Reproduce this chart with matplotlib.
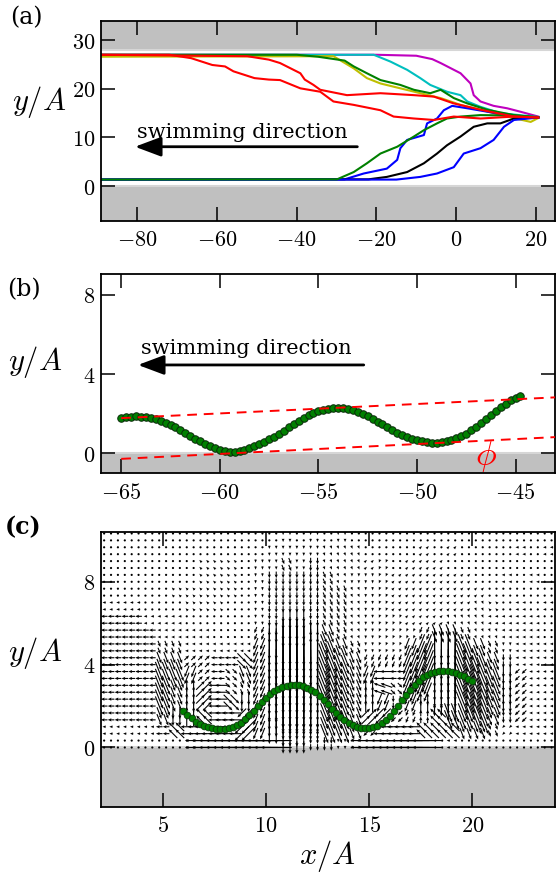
import numpy as np
import matplotlib.pyplot as plt
from matplotlib.ticker import FuncFormatter

plt.rcParams['mathtext.fontset'] = 'cm'
plt.rcParams['font.family'] = 'DejaVu Serif'

W, H = 556, 875
WALL = '#c0c0c0'
EDGE = '#d6d6d6'
TICK_FS = 16
LABEL_FS = 22

# ---- (a) tracer trajectories, x and y in units of A ----
red_1_x = [-90, -72, -66.5, -61.2, -58.0, -55.9, -50.6, -47.0, -44.2, -39.1, -34.1, -30.8, -25.7, -19.0, -15.7, -10.6, -5.6, -0.6, 6.1, 14.5, 20.6]
red_1_y = [27.0, 27.0, 26.3, 24.9, 24.6, 23.6, 22.2, 21.9, 21.8, 20.1, 19.4, 17.4, 16.7, 15.6, 14.3, 13.9, 13.6, 14.3, 13.9, 14.3, 14.1]
red_2_x = [-90, -52.4, -47.0, -44.2, -39.1, -38.0, -35.8, -34.1, -27.4, -19.0, -10.6, -5.6, -0.6, 6.1, 14.5, 20.6]
red_2_y = [27.0, 26.7, 26.0, 25.3, 23.2, 21.9, 20.8, 19.8, 18.7, 19.1, 18.7, 18.4, 17.0, 15.7, 14.3, 14.1]
magenta_x = [-90, -20, -10, -6.0, -3.9, 1.1, 3.6, 4.4, 6.1, 9.4, 12.8, 16.1, 20.6]
magenta_y = [27.0, 27.0, 26.8, 26.1, 25.3, 23.2, 21.1, 18.7, 17.4, 16.5, 16.0, 15.3, 14.3]
cyan_x = [-90, -20.7, -16.5, -12.3, -9.0, -6.5, -2.3, 1.1, 2.8, 6.1, 11.1, 20.6]
cyan_y = [27.0, 27.0, 25.6, 23.9, 22.2, 20.8, 19.4, 18.7, 17.4, 16.3, 15.0, 14.2]
yellow_x = [-90, -30.8, -25.7, -22.4, -19.0, -14.0, -9.0, -3.9, 1.1, 6.1, 12.8, 18.7, 20.6]
yellow_y = [26.6, 26.7, 24.2, 22.2, 21.1, 20.1, 19.1, 18.1, 16.7, 15.7, 14.3, 13.2, 14.0]
green_1_x = [-90, -40, -34.7, -28.0, -25.7, -22.4, -19.0, -14.0, -10.6, -6.5, -3.9, -0.6, 2.8, 7.8, 14.5, 20.6]
green_1_y = [27.0, 27.0, 26.6, 25.8, 24.6, 23.2, 21.8, 20.8, 19.8, 19.1, 19.8, 18.1, 17.0, 15.7, 14.6, 14.1]
green_2_x = [-90, -29.9, -25.7, -22.4, -19.0, -14.8, -10.6, -8.1, -4.8, -2.3, 1.1, 6.1, 14.5, 20.6]
green_2_y = [1.35, 1.4, 2.9, 4.7, 6.7, 8.1, 10.2, 11.5, 12.9, 13.9, 14.3, 14.6, 14.5, 14.2]
blue_1_x = [-90, -28.0, -23.2, -17.4, -14.8, -14.0, -12.3, -8.1, -7.3, -4.8, -3.1, -1.0, 2.8, 7.8, 14.5, 20.6]
blue_1_y = [1.35, 1.4, 2.6, 3.6, 5.4, 7.8, 9.5, 10.5, 12.9, 13.9, 15.6, 16.5, 16.0, 15.3, 14.3, 14.1]
blue_2_x = [-90, -15.0, -9.0, -4.8, -0.6, 1.9, 6.1, 9.4, 12.0, 14.5, 20.6]
blue_2_y = [1.35, 1.35, 1.9, 2.6, 3.9, 6.7, 7.8, 9.5, 12.2, 13.6, 14.1]
black_x = [-90, -22.0, -17.4, -12.3, -8.1, -4.8, -2.3, 1.1, 4.4, 7.8, 11.1, 14.5, 20.6]
black_y = [1.35, 1.4, 1.9, 2.9, 4.7, 6.7, 8.4, 10.2, 12.2, 12.9, 12.9, 13.9, 14.1]

trajectories = [
    (magenta_x, magenta_y, 'm'), (cyan_x, cyan_y, 'c'), (yellow_x, yellow_y, 'y'),
    (green_1_x, green_1_y, 'g'), (blue_1_x, blue_1_y, 'b'), (black_x, black_y, 'k'),
    (blue_2_x, blue_2_y, 'b'), (green_2_x, green_2_y, 'g'),
    (red_1_x, red_1_y, 'r'), (red_2_x, red_2_y, 'r'),
]

# ---- (b) swimmer snapshot near the wall ----
body_b_x = [-65.00, -64.75, -64.50, -64.25, -64.00, -63.75, -63.50, -63.25, -63.00, -62.75,
            -62.50, -62.25, -62.00, -61.75, -61.50, -61.25, -61.00, -60.75, -60.50, -60.25,
            -60.00, -59.75, -59.50, -59.25, -59.00, -58.75, -58.50, -58.25, -58.00, -57.75,
            -57.50, -57.25, -57.00, -56.75, -56.50, -56.25, -56.00, -55.75, -55.50, -55.25,
            -55.00, -54.75, -54.50, -54.25, -54.00, -53.75, -53.50, -53.25, -53.00, -52.75,
            -52.50, -52.25, -52.00, -51.75, -51.50, -51.25, -51.00, -50.75, -50.50, -50.25,
            -50.00, -49.75, -49.50, -49.25, -49.00, -48.75, -48.50, -48.25, -48.00, -47.75,
            -47.50, -47.25, -47.00, -46.75, -46.50, -46.25, -46.00, -45.75, -45.50, -45.25,
            -45.00, -44.75]
body_b_y = [1.77, 1.82, 1.85, 1.86, 1.85, 1.82, 1.77, 1.71, 1.64, 1.54,
            1.43, 1.31, 1.18, 1.03, 0.88, 0.73, 0.59, 0.46, 0.34, 0.25,
            0.17, 0.11, 0.08, 0.08, 0.11, 0.17, 0.24, 0.34, 0.45, 0.57,
            0.70, 0.84, 0.98, 1.13, 1.30, 1.47, 1.64, 1.79, 1.93, 2.04,
            2.13, 2.20, 2.25, 2.28, 2.29, 2.27, 2.24, 2.18, 2.10, 2.00,
            1.87, 1.73, 1.59, 1.45, 1.30, 1.17, 1.04, 0.93, 0.82, 0.73,
            0.65, 0.59, 0.55, 0.53, 0.53, 0.55, 0.59, 0.66, 0.75, 0.85,
            0.99, 1.15, 1.34, 1.54, 1.74, 1.95, 2.14, 2.33, 2.51, 2.68,
            2.81, 2.90]
upper_tangent = ([-65.0, -43.0], [1.77, 2.82])
lower_tangent = ([-65.0, -43.0], [-0.29, 0.81])

# ---- (c) swimmer and flow field ----
body_c_x = [6.0, 6.2, 6.4, 6.6, 6.8, 7.0, 7.2, 7.4, 7.6, 7.8, 8.0, 8.2, 8.4, 8.6, 8.8,
            9.0, 9.2, 9.4, 9.6, 9.8, 10.0, 10.2, 10.4, 10.6, 10.8, 11.0, 11.2, 11.4, 11.6, 11.8,
            12.0, 12.2, 12.4, 12.6, 12.8, 13.0, 13.2, 13.4, 13.6, 13.8, 14.0, 14.2, 14.4, 14.6, 14.8,
            15.0, 15.2, 15.4, 15.6, 15.8, 16.0, 16.2, 16.4, 16.6, 16.8, 17.0, 17.2, 17.4, 17.6, 17.8,
            18.0, 18.2, 18.4, 18.6, 18.8, 19.0, 19.2, 19.4, 19.6, 19.8, 20.0]
body_c_y = [1.77, 1.58, 1.40, 1.25, 1.13, 1.04, 0.97, 0.92, 0.90, 0.89, 0.90, 0.92, 0.98, 1.07, 1.18,
            1.36, 1.56, 1.77, 1.98, 2.20, 2.39, 2.56, 2.71, 2.83, 2.93, 2.98, 3.01, 3.02, 3.00, 2.95,
            2.88, 2.78, 2.66, 2.49, 2.29, 2.08, 1.86, 1.65, 1.47, 1.31, 1.19, 1.09, 1.01, 0.95, 0.92,
            0.92, 0.97, 1.06, 1.18, 1.34, 1.53, 1.76, 2.02, 2.28, 2.54, 2.78, 3.01, 3.22, 3.39, 3.51,
            3.60, 3.66, 3.70, 3.71, 3.70, 3.66, 3.60, 3.52, 3.43, 3.33, 3.23]

# velocity map on 2/3 A cells, top row first; spaces only separate column groups.
# direction: numpad layout (8 up, 2 down, 4 left, 6 right, 7/9/1/3 diagonals),
# l / r steep down-left / down-right, u / v shallow left-down / left-up
flow_dir = [
    "4444 44 44444 2 2222 222 999 999999 4 4444",
    "4444 44 44444 2 2222 rrr 999 999999 4 4444",
    "4444 44 47774 2 2r22 rrr 9l9 999999 4 4444",
    "4444 44 47774 2 2222 rr2 2l9 999999 4 4444",
    "4444 47 77774 2 2222 rrr 2l9 999999 7 4444",
    "4444 44 77744 2 2222 rrr 2l9 99999r 7 4444",
    "4444 44 44111 2 2222 rrr 2ll 999rrr 4 4444",
    "4444 44 44111 l 2222 rrr 2ll llrrrr r 4444",
    "4444 rr 44444 l 2222 rrr 2ll ll22rr r 2444",
    "4444 rr 99443 l 2222 rrr lll ll22rr r 2444",
    "4444 rr l943r l 2222 rrr l44 ll22rr r 2144",
    "4444 rr 8943r l 2222 rrr 8v3 ll22rr r 2144",
    "4444 rr 89432 l 2222 rrr 8l2 l822rr r 2144",
    "4444 r2 87441 l 2222 rrr 911 l87rrr r 2144",
    "4444 47 44441 l 2222 rrr 144 4777rr r 1444",
    "4444 44 44444 4 4222 221 444 444444 4 4444",
]
# magnitude: arrow length class, see ARROW_LEN
flow_mag = [
    "0000 00 00000 0 0101 010 000 000000 0 0000",
    "0000 00 00000 0 1111 111 000 010100 0 0101",
    "0000 00 01110 1 1212 111 110 111000 0 0000",
    "0000 00 01110 1 2222 211 111 111110 0 1010",
    "0000 01 11110 1 2222 221 111 111111 0 0000",
    "1110 00 11100 1 2222 221 111 111111 1 0101",
    "2221 11 00000 1 2332 221 111 111111 1 1110",
    "2222 11 11000 2 3443 321 111 123321 1 1110",
    "2222 22 11111 3 5666 432 111 345543 2 1111",
    "2222 33 22223 3 5666 543 222 455554 3 2111",
    "2222 44 32223 3 5666 543 332 455555 4 3211",
    "2222 43 33322 3 5666 543 332 445555 4 3211",
    "2222 43 33333 3 5666 543 332 334555 4 3211",
    "2222 33 33333 3 4555 443 332 223445 3 2211",
    "1111 23 33334 3 4333 443 233 333333 2 1111",
    "0000 00 05555 5 5332 211 555 551100 0 0000",
]
ARROW_LEN = {'0': 0.05, '1': 0.16, '2': 0.32, '3': 0.6, '4': 1.0, '5': 1.5, '6': 2.1}
DIRS = {'8': (0, 1), '2': (0, -1), '4': (-1, 0), '6': (1, 0),
        '7': (-1, 1), '9': (1, 1), '1': (-1, -1), '3': (1, -1), '5': (0, 0),
        'l': (-0.4, -1), 'r': (0.4, -1), 'u': (-1, -0.35), 'v': (-1, 0.35)}


def px_axes(fig, left, top, right, bottom):
    return fig.add_axes([left / W, 1 - bottom / H, (right - left) / W, (bottom - top) / H])


def style_axes(ax, xticks, yticks):
    ax.set_xticks(xticks)
    ax.set_yticks(yticks)
    fmt = FuncFormatter(lambda v, p: f'${v:g}$')
    ax.xaxis.set_major_formatter(fmt)
    ax.yaxis.set_major_formatter(fmt)
    ax.tick_params(direction='in', length=10, width=1.1, top=True, right=True,
                   labelsize=TICK_FS, pad=6)
    ax.tick_params(axis='y', pad=4)
    for s in ax.spines.values():
        s.set_linewidth(1.3)


def add_walls(ax, spans):
    for lo, hi in spans:
        ax.axhspan(lo, hi, color=WALL, lw=0, zorder=0)
        edge = hi if lo < 0 else lo
        ax.axhline(edge, color=EDGE, lw=1.5, zorder=0.5)


def fig_label(fig, x, y, s, **kw):
    fig.text(x / W, 1 - y / H, s, ha='center', va='center', **kw)


def swim_arrow(ax, x0, x1, y):
    ax.annotate('', xy=(x1, y), xytext=(x0, y),
                arrowprops=dict(arrowstyle='-|>,head_length=0.8,head_width=0.3',
                                lw=2, color='k', mutation_scale=20, shrinkA=0, shrinkB=0))


fig = plt.figure(figsize=(W / 100, H / 100), dpi=100)

# (a)
ax_a = px_axes(fig, 100.7, 20.7, 555, 220.7)
ax_a.set_xlim(-89.2, 24.8)
ax_a.set_ylim(-7.1, 34.0)
add_walls(ax_a, [(-10, 0), (28, 40)])
for tx, ty, col in trajectories:
    ax_a.plot(tx, ty, color=col, lw=1.5, zorder=2)
swim_arrow(ax_a, -24.8, -80.6, 8.1)
ax_a.text(-80.0, 9.95, 'swimming direction', fontsize=15, ha='left', va='baseline')
style_axes(ax_a, [-80, -60, -40, -20, 0, 20], [0, 10, 20, 30])

# (b)
ax_b = px_axes(fig, 100.7, 274, 555, 473.3)
ax_b.set_xlim(-66.04, -43.0)
ax_b.set_ylim(-1.02, 9.06)
add_walls(ax_b, [(-5, 0)])
ax_b.plot(body_b_x, body_b_y, 'o', ms=5.4, mfc='#008000', mec='#0a2a0a', mew=0.7, zorder=3)
for lx, ly in (upper_tangent, lower_tangent):
    ax_b.plot(lx, ly, color='r', lw=1.4, dashes=(5, 3.5), zorder=4)
ax_b.text(-46.5, -0.17, r'$\phi$', color='r', fontsize=25, ha='center', va='center', zorder=5)
swim_arrow(ax_b, -52.7, -64.15, 4.46)
ax_b.text(-64.0, 5.02, 'swimming direction', fontsize=15, ha='left', va='baseline')
style_axes(ax_b, [-65, -60, -55, -50, -45], [0, 4, 8])

# (c)
ax_c = px_axes(fig, 100.7, 532.3, 555, 806.7)
ax_c.set_xlim(2.0, 24.0)
ax_c.set_ylim(-2.86, 10.39)
add_walls(ax_c, [(-5, 0)])

dir_rows = [row.replace(' ', '') for row in flow_dir]
mag_rows = [row.replace(' ', '') for row in flow_mag]
n_rows, n_cols = len(dir_rows), len(dir_rows[0])
gx = 2 + 1 / 6 + np.arange(2 * n_cols) / 3
gy = np.arange(2 * n_rows) / 3
X, Y = np.meshgrid(gx, gy)
U = np.zeros_like(X)
V = np.zeros_like(X)
for j in range(2 * n_rows):
    r = n_rows - 1 - j // 2
    for i in range(2 * n_cols):
        c = i // 2
        dx, dy = DIRS[dir_rows[r][c]]
        norm = np.hypot(dx, dy) or 1.0
        L = ARROW_LEN[mag_rows[r][c]]
        U[j, i] = L * dx / norm
        V[j, i] = L * dy / norm
# short vectors fall back to small dots (minlength), like the quiet far field
ax_c.quiver(X, Y, U, V, angles='xy', scale_units='xy', scale=1, pivot='middle',
            width=0.0024, headwidth=3, headlength=3.5, headaxislength=3,
            minlength=2.2, color='k', zorder=3)
ax_c.plot(body_c_x, body_c_y, 'o', ms=4.8, mfc='#008000', mec='#0a3a0a', mew=0.6, zorder=5)
style_axes(ax_c, [5, 10, 15, 20], [0, 4, 8])

fig_label(fig, 39, 102, r'$y/A$', fontsize=LABEL_FS)
fig_label(fig, 35, 362, r'$y/A$', fontsize=LABEL_FS)
fig_label(fig, 35, 653, r'$y/A$', fontsize=LABEL_FS)
fig_label(fig, 327, 856, r'$x/A$', fontsize=LABEL_FS)
fig_label(fig, 26, 18, '(a)', fontsize=17)
fig_label(fig, 24, 290, '(b)', fontsize=17)
fig_label(fig, 23, 527, '(c)', fontsize=17, fontweight='bold')

fig.savefig('out.png', dpi=100)
